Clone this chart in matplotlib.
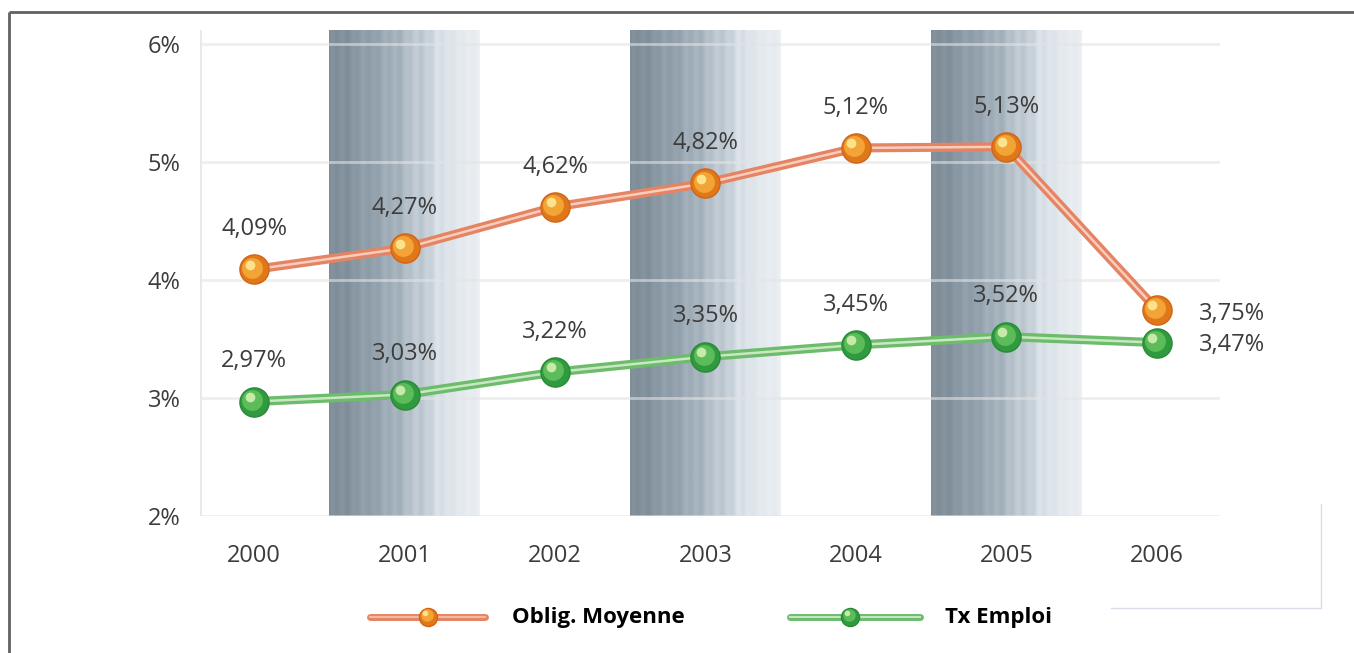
import matplotlib
matplotlib.use("Agg")
import matplotlib.pyplot as plt
import matplotlib.colors as mcolors
from matplotlib.lines import Line2D
import numpy as np

plt.rcParams['font.family'] = ['Open Sans', 'DejaVu Sans']

years = ['2000', '2001', '2002', '2003', '2004', '2005', '2006']
oblig = [4.09, 4.27, 4.62, 4.82, 5.12, 5.13, 3.75]
emploi = [2.97, 3.03, 3.22, 3.35, 3.45, 3.52, 3.47]
oblig_labels = ['4,09%', '4,27%', '4,62%', '4,82%', '5,12%', '5,13%', '3,75%']
emploi_labels = ['2,97%', '3,03%', '3,22%', '3,35%', '3,45%', '3,52%', '3,47%']
y_ticks = [2, 3, 4, 5, 6]
y_ticklabels = ['2%', '3%', '4%', '5%', '6%']
band_years = [1, 3, 5]  # 2001, 2003, 2005

W, H = 1354, 653
fig = plt.figure(figsize=(W / 100, H / 100), dpi=100)
ax = fig.add_axes([200 / W, (H - 516) / H, 1020 / W, 486 / H])
x = np.arange(len(years))
ax.set_xlim(-0.36, 6.42)
ax.set_ylim(2.0, 6.12)

# frame round the picture (top and left only)
fig.add_artist(Line2D([9 / W, 1.01], [1 - 12 / H, 1 - 12 / H], color='#5e6266', lw=2,
                      solid_capstyle='butt'))
fig.add_artist(Line2D([9 / W, 9 / W], [-0.01, 1 - 12 / H], color='#5e6266', lw=2,
                      solid_capstyle='butt'))
# thin box lower right
fig.add_artist(Line2D([1111 / W, 1321 / W, 1321 / W], [1 - 608 / H, 1 - 608 / H, 1 - 504 / H],
                      color='#d8dce8', lw=1))

# grey brushed bands, dark on the left, light on the right
t = np.linspace(0, 1, 300)
shade = 0.08 + 0.80 * t ** 1.2 + 0.03 * np.sin(t * 90) + 0.02 * np.sin(t * 37)
shade[-10:] = np.linspace(shade[-11], 0.93, 10)
grad = np.clip(shade, 0, 1).reshape(1, -1)
band_cmap = mcolors.LinearSegmentedColormap.from_list('band', ['#74828e', '#9dabb6', '#dde4ea', '#f4f6f8'])
for b in band_years:
    ax.imshow(grad, cmap=band_cmap, vmin=0, vmax=1, aspect='auto',
              extent=[b - 0.5, b + 0.5, 2.0, 6.12], zorder=1, interpolation='bilinear')

for yv in y_ticks:
    ax.axhline(yv, color='#e4e4e4', lw=2, alpha=0.6, zorder=2)
ax.axvline(-0.36, color='#e8e8e8', lw=2, zorder=2)

# lines: coloured with lighter middle stripe
ax.plot(x, oblig, color='#e58462', lw=6.5, zorder=3, solid_capstyle='round')
ax.plot(x, oblig, color='#f8cdbd', lw=1.8, zorder=3)
ax.plot(x, emploi, color='#6cbc6c', lw=6.5, zorder=3, solid_capstyle='round')
ax.plot(x, emploi, color='#c8e8c2', lw=1.8, zorder=3)

# sphere markers
ax.plot(x, oblig, 'o', ms=21, mfc='#e0781a', mec='#d06418', mew=1, zorder=4)
ax.plot(x - 0.012, np.array(oblig) + 0.015, 'o', ms=15, mfc='#f3a437', mec='none', zorder=4)
ax.plot(x - 0.03, np.array(oblig) + 0.04, 'o', ms=7, mfc='#fde28c', mec='none', zorder=4)
ax.plot(x, emploi, 'o', ms=21, mfc='#2f9a3e', mec='#2a8a38', mew=1, zorder=4)
ax.plot(x - 0.012, np.array(emploi) + 0.015, 'o', ms=15, mfc='#5cbc5a', mec='none', zorder=4)
ax.plot(x - 0.03, np.array(emploi) + 0.04, 'o', ms=7, mfc='#c6eaa8', mec='none', zorder=4)

txt = dict(color='#3c3c3c', fontsize=17, zorder=5)
for i in range(len(years) - 1):
    ax.annotate(oblig_labels[i], (x[i], oblig[i]), xytext=(0, 29), textcoords='offset points',
                ha='center', va='center', **txt)
    ax.annotate(emploi_labels[i], (x[i], emploi[i]), xytext=(0, 29), textcoords='offset points',
                ha='center', va='center', **txt)
ax.annotate(oblig_labels[-1], (x[-1], oblig[-1]), xytext=(30, -3), textcoords='offset points',
            ha='left', va='center', **txt)
ax.annotate(emploi_labels[-1], (x[-1], emploi[-1]), xytext=(30, -2), textcoords='offset points',
            ha='left', va='center', **txt)

ax.set_xticks(x)
ax.set_xticklabels(years, color='#3c3c3c', fontsize=17)
ax.set_yticks(y_ticks)
ax.set_yticklabels(y_ticklabels, color='#3c3c3c', fontsize=17)
ax.tick_params(axis='x', length=0, pad=20)
ax.tick_params(axis='y', length=0, pad=14)
for s in ax.spines.values():
    s.set_visible(False)

# legend drawn in pixel coordinates
leg = fig.add_axes([0, 0, 1, 1], zorder=-1)
leg.set_xlim(0, W)
leg.set_ylim(H, 0)
leg.axis('off')
leg.plot([370, 485], [617, 617], color='#e58462', lw=5, solid_capstyle='round')
leg.plot([370, 485], [617, 617], color='#f3b8a2', lw=1.5)
leg.plot([428], [617], 'o', ms=13, mfc='#e0781a', mec='#d06418')
leg.plot([427], [615], 'o', ms=9, mfc='#f3a437', mec='none')
leg.plot([425], [613], 'o', ms=4, mfc='#fde28c', mec='none')
leg.text(512, 617, 'Oblig. Moyenne', fontsize=16, fontweight='bold', color='black', va='center', ha='left')
leg.plot([790, 920], [617, 617], color='#6cbc6c', lw=5, solid_capstyle='round')
leg.plot([790, 920], [617, 617], color='#c4e6c0', lw=1.5)
leg.plot([850], [617], 'o', ms=13, mfc='#2f9a3e', mec='#2a8a38')
leg.plot([849], [615], 'o', ms=9, mfc='#5cbc5a', mec='none')
leg.plot([847], [613], 'o', ms=4, mfc='#c6eaa8', mec='none')
leg.text(945, 617, 'Tx Emploi', fontsize=16, fontweight='bold', color='black', va='center', ha='left')

fig.savefig('out.png', dpi=100)
